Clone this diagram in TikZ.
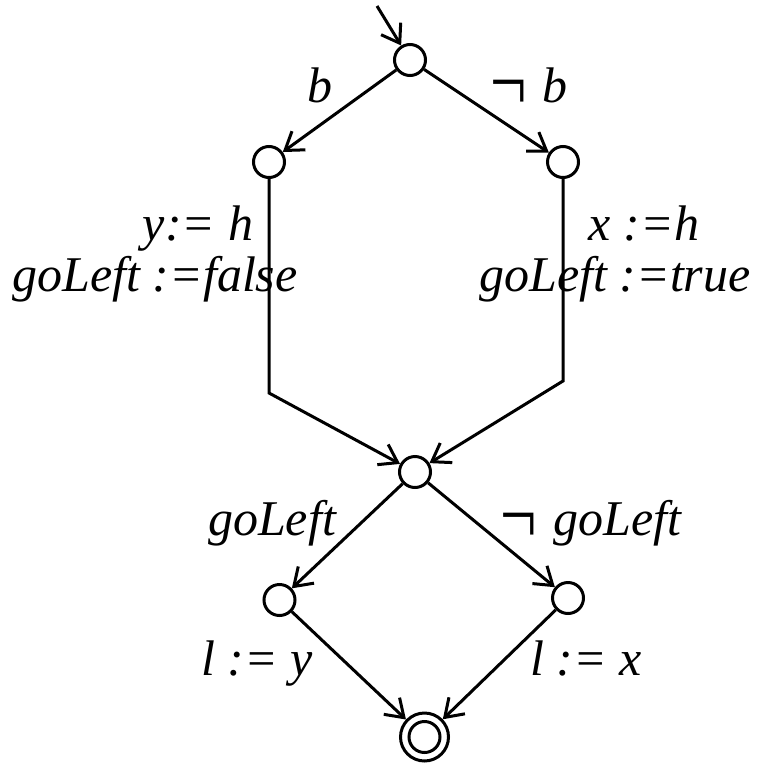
\documentclass[tikz,border=0pt]{standalone}
\usepackage{fontspec}
\setmainfont{Liberation Serif}
\usetikzlibrary{arrows.meta}
\newcommand{\bigneg}{\raisebox{-8pt}{\scalebox{1.3}[1.7]{¬}}}
\tikzset{
  st/.style={circle,draw,line width=3pt,minimum size=31pt,inner sep=0pt},
  fin/.style={circle,draw,line width=3pt,minimum size=48pt,inner sep=0pt},
  tr/.style={line width=3pt,-{Straight Barb[length=17pt,width=23pt,line width=3pt]}},
  lab/.style={anchor=base,inner sep=0pt,font=\fontsize{50}{58}\selectfont\itshape}
}
\begin{document}
\begin{tikzpicture}[x=1pt,y=-1pt]
\useasboundingbox[fill=white] (0,0) rectangle (758,763);
\node[st] (t) at (410,60) {};
\node[st] (l1) at (269,162) {};
\node[st] (r1) at (563,162) {};
\node[st] (m) at (415,472) {};
\node[st] (l2) at (279.5,600) {};
\node[st] (r2) at (568,598) {};
\node[fin] (f) at (424.5,737) {};
\node[st] (fi) at (424.5,737) {};
\coordinate (s) at (377,6);
\coordinate (lc) at (269,393);
\coordinate (rc) at (563,381);
\draw[tr] (s) -- (t);
\draw[tr] (t) -- (l1);
\draw[tr] (t) -- (r1);
\draw[tr] (l1) -- (lc) -- (m);
\draw[tr] (r1) -- (rc) -- (m);
\draw[tr] (m) -- (l2);
\draw[tr] (m) -- (r2);
\draw[tr] (l2) -- (f);
\draw[tr] (r2) -- (f);
\node[lab] (lb) at (320,102) {b};
\node[lab] (lnb) at (527,102) {\bigneg\ b};
\node[lab] (ly) at (198,240) {y:= h};
\node[lab] (lgf) at (155,291) {goLeft :=false};
\node[lab] (lx) at (644,240) {x :=h};
\node[lab] (lgt) at (615,291) {goLeft :=true};
\node[lab] (lg) at (272,535) {goLeft};
\node[lab] (lng) at (589,535) {\bigneg\ goLeft};
\node[lab] (lly) at (257,675) {l := y};
\node[lab] (llx) at (586,675) {l := x};
\end{tikzpicture}
\end{document}
